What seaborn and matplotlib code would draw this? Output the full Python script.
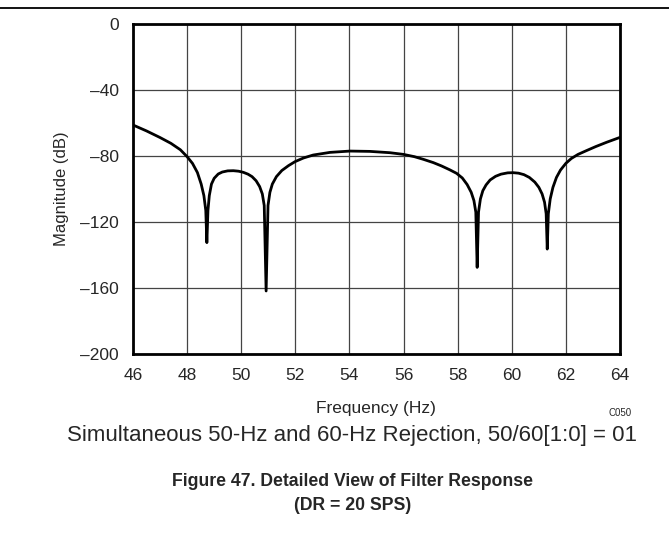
"""
Detailed view of filter response (DR = 20 SPS), 50/60 Hz rejection.
"""

import matplotlib
matplotlib.use("Agg")
import matplotlib.pyplot as plt
from matplotlib.lines import Line2D
import pandas as pd
import seaborn as sns

# Curve (Hz, dB)
FREQ = [
    46.00, 46.50, 47.00, 47.40, 47.75, 48.00, 48.20, 48.38, 48.52, 48.62,
    48.69, 48.73, 48.77, 48.82, 48.90, 49.00, 49.15, 49.30, 49.50, 49.71,
    49.90, 50.08, 50.25, 50.40, 50.55, 50.68, 50.78, 50.85, 50.92, 50.99,
    51.06, 51.15, 51.30, 51.50, 51.75, 51.99, 52.30, 52.66, 53.28, 54.02,
    54.76, 55.50, 55.99, 56.40, 56.73, 57.10, 57.40, 57.70, 57.96, 58.17,
    58.35, 58.50, 58.60, 58.67, 58.72, 58.77, 58.84, 58.93, 59.05, 59.20,
    59.40, 59.60, 59.85, 60.05, 60.25, 60.45, 60.65, 60.85, 61.00, 61.12,
    61.21, 61.27, 61.31, 61.35, 61.42, 61.52, 61.65, 61.80, 62.00, 62.20,
    62.45, 62.75, 63.10, 63.50, 64.00,
]
MAG_DB = [
    -61.2, -64.8, -68.8, -72.3, -76.2, -80.4, -84.5, -90.0, -97.0, -104.0,
    -113.0, -132.5, -113.0, -104.0, -97.0, -93.5, -90.9, -89.7, -89.0, -88.9,
    -89.2, -89.9, -91.0, -92.5, -95.0, -98.5, -103.0, -110.0, -161.8, -110.0,
    -102.0, -97.0, -92.5, -88.8, -85.8, -83.4, -81.2, -79.4, -77.8, -77.0,
    -77.2, -78.0, -79.0, -80.4, -82.0, -84.0, -86.0, -88.3, -90.5, -93.3,
    -97.3, -102.0, -107.0, -114.0, -147.5, -114.0, -106.0, -101.0, -97.5, -94.5,
    -92.3, -91.0, -90.2, -90.1, -90.4, -91.3, -93.0, -95.8, -99.0, -103.0,
    -108.0, -115.0, -136.4, -115.0, -106.0, -99.0, -93.0, -88.5, -84.4, -81.5,
    -79.0, -76.8, -74.3, -71.7, -68.7,
]

X_TICKS = [46, 48, 50, 52, 54, 56, 58, 60, 62, 64]
Y_TICKS = [0, -40, -80, -120, -160, -200]
Y_TICK_LABELS = ["0", "–40", "–80", "–120", "–160", "–200"]

sns.set_style("white")
plt.rcParams["font.family"] = ["Liberation Sans", "DejaVu Sans"]

df = pd.DataFrame({"freq": FREQ, "mag": MAG_DB})

fig = plt.figure(figsize=(6.69, 5.35), dpi=100)
ax = fig.add_axes([0.1988, 0.3383, 0.7280, 0.6168])

sns.lineplot(data=df, x="freq", y="mag", color="black", linewidth=2.0,
             ax=ax, zorder=3)

ax.set_xlim(46, 64)
ax.set_ylim(-200, 0)
ax.set_xticks(X_TICKS)
ax.set_xticklabels([str(t) for t in X_TICKS])
ax.set_yticks(Y_TICKS)
ax.set_yticklabels(Y_TICK_LABELS)
ax.tick_params(axis="both", length=0, labelsize=12.5, pad=10)

ax.grid(True, color="#444444", linewidth=0.9)
for s in ax.spines.values():
    s.set_visible(True)
    s.set_color("black")
    s.set_linewidth(2.0)

ax.set_xlabel("")
ax.set_ylabel("Magnitude (dB)", fontsize=12, labelpad=8)

# rule at the very top of the page
fig.add_artist(Line2D([0, 1], [1 - 8 / 535, 1 - 8 / 535], color="black",
                      linewidth=1.3, transform=fig.transFigure))

fig.text(376 / 669, 1 - 408 / 535, "Frequency (Hz)", ha="center",
         va="center", fontsize=12.5)
fig.text(620 / 669, 1 - 413 / 535, "C050", ha="center", va="center",
         fontsize=7)
fig.text(352 / 669, 1 - 436 / 535,
         "Simultaneous 50-Hz and 60-Hz Rejection, 50/60[1:0] = 01",
         ha="center", va="center", fontsize=16)
fig.text(353 / 669, 1 - 481 / 535,
         "Figure 47. Detailed View of Filter Response",
         ha="center", va="center", fontsize=12.7, fontweight="bold")
fig.text(353 / 669, 1 - 505 / 535, "(DR = 20 SPS)",
         ha="center", va="center", fontsize=12.7, fontweight="bold")

fig.savefig("out.png", dpi=100)
plt.close(fig)
